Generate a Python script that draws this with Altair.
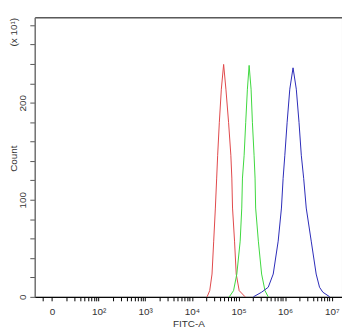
import altair as alt
import pandas as pd
import math

# Decade positions (log10 of FITC-A); "0" label sits at decade position 1
red_u = [4.326, 4.383, 4.432, 4.468, 4.504, 4.532, 4.553, 4.589, 4.632, 4.681,
         4.730, 4.787, 4.836, 4.857, 4.872, 4.915, 4.951, 5.015, 5.143]
red_c = [0, 6.4, 23.5, 57.4, 91.5, 122.4, 145.9, 179.9, 214, 239.5,
         214, 179.9, 145.9, 122.4, 91.5, 57.4, 23.5, 6.4, 0]

green_u = [4.802, 4.894, 4.964, 5.036, 5.070, 5.085, 5.121, 5.155, 5.191, 5.228,
           5.270, 5.298, 5.334, 5.355, 5.368, 5.426, 5.496, 5.568, 5.638]
green_c = [0, 6.4, 23.5, 57.4, 91.5, 122.4, 145.9, 179.9, 214, 238.5,
           214, 179.9, 145.9, 122.4, 91.5, 57.4, 23.5, 6.4, 0]

blue_u = [5.319, 5.496, 5.638, 5.745, 5.851, 5.921, 5.957, 5.994, 6.043, 6.100, 6.170,
          6.240, 6.298, 6.347, 6.398, 6.453, 6.560, 6.666, 6.738, 6.809, 6.957]
blue_c = [0, 4.8, 9.9, 23.5, 57.4, 91.5, 122.1, 145.9, 179.9, 214, 236,
          214, 179.9, 145.9, 122.1, 91.5, 57.4, 23.5, 9.9, 4.8, 0]

series_names = ["red", "green", "blue"]
series_colors = ["#e0484a", "#3ed83e", "#2a2ab8"]

major_decades = [1, 2, 3, 4, 5, 6, 7]
x_labels = ["0", "10²", "10³", "10⁴", "10⁵", "10⁶", "10⁷"]
y_ticks = list(range(0, 281, 20))
y_labels = [0, 100, 200]

rows = []
for name, us, cs in zip(series_names, [red_u, green_u, blue_u], [red_c, green_c, blue_c]):
    for u, c in zip(us, cs):
        rows.append({"series": name, "u": u, "count": c})
df = pd.DataFrame(rows)

x_tick_vals = [0.8]
for d in major_decades[:-1]:
    for k in range(1, 10):
        x_tick_vals.append(round(d + math.log10(k), 4))
x_tick_vals.append(7)

label_expr = "''"
for d, lab in reversed(list(zip(major_decades, x_labels))):
    label_expr = f"datum.value == {d} ? '{lab}' : ({label_expr})"

y_label_expr = " || ".join(f"datum.value == {v}" for v in y_labels)
y_label_expr = f"({y_label_expr}) ? datum.label : ''"

FONT = "Liberation Sans"

lines = alt.Chart(df).mark_line(strokeWidth=1, interpolate="linear").encode(
    x=alt.X("u:Q", scale=alt.Scale(domain=[0.63, 7.22], nice=False, zero=False),
            axis=alt.Axis(values=x_tick_vals, labelExpr=label_expr, title="FITC-A",
                          grid=False, tickSize=4, tickColor="#000", domainColor="#000",
                          labelFont=FONT, labelFontSize=10, labelColor="#333",
                          labelPadding=6, titleFont=FONT, titleFontSize=10,
                          titleFontWeight="normal", titleColor="#333", titlePadding=2,
                          labelFlush=False, labelOverlap=False)),
    y=alt.Y("count:Q", scale=alt.Scale(domain=[0, 288], nice=False),
            axis=alt.Axis(values=y_ticks, labelExpr=y_label_expr, title="Count",
                          grid=False, tickSize=5, tickColor="#555", domainColor="#888",
                          labelAngle=270, labelAlign="center", labelBaseline="bottom",
                          labelFont=FONT, labelFontSize=10, labelColor="#333",
                          labelPadding=2, titleFont=FONT, titleFontSize=10,
                          titleFontWeight="normal", titleColor="#333",
                          titleX=-21, titleY=142, titleBaseline="middle",
                          titleAlign="center", titleAngle=270,
                          labelFlush=False, labelOverlap=False)),
    color=alt.Color("series:N", scale=alt.Scale(domain=series_names, range=series_colors),
                    legend=None),
    detail="series:N",
)

mult = alt.Chart(pd.DataFrame({"t": ["(x 10¹)"]})).mark_text(
    angle=270, font=FONT, fontSize=10, color="#333", align="center", baseline="middle"
).encode(text="t:N", x=alt.value(-21), y=alt.value(15))

chart = alt.layer(lines, mult).properties(
    width=310, height=282,
    autosize=alt.AutoSizeParams(type="none"),
    padding={"left": 27, "top": 8, "right": 0, "bottom": 32},
).configure_view(stroke="#000", strokeWidth=1)

chart.save("out.html", embed_options={"renderer": "svg", "actions": False})
